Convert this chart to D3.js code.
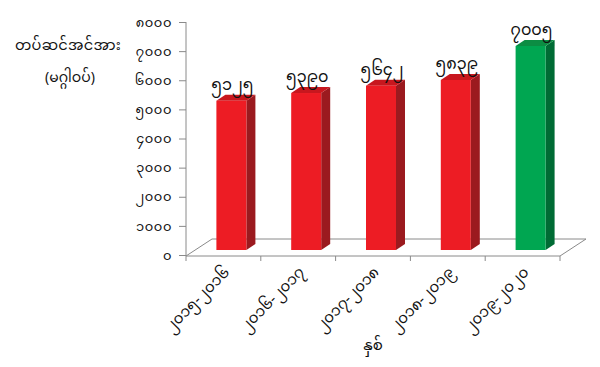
<!DOCTYPE html>
<html><head><meta charset="utf-8">
<script src="https://cdn.jsdelivr.net/npm/d3@7"></script>
<style>body{margin:0;background:#fff}svg{display:block}text{font-family:"Noto Sans Myanmar","Padauk","Myanmar Text","Noto Sans",sans-serif;fill:#111}</style>
</head><body><svg id="c" width="600" height="367"></svg>
<script>
const categories = ["၂၀၁၅-၂၀၁၆","၂၀၁၆-၂၀၁၇","၂၀၁၇-၂၀၁၈","၂၀၁၈-၂၀၁၉","၂၀၁၉-၂၀၂၀"];
const values = [5125, 5390, 5642, 5839, 7005];
const valueLabels = ["၅၁၂၅","၅၃၉၀","၅၆၄၂","၅၈၃၉","၇၀၀၅"];
const tickValues = [0,1000,2000,3000,4000,5000,6000,7000,8000];
const tickLabels = ["၀","၁၀၀၀","၂၀၀၀","၃၀၀၀","၄၀၀၀","၅၀၀၀","၆၀၀၀","၇၀၀၀","၈၀၀၀"];
const yTitle = ["တပ်ဆင်အင်အား","(မဂ္ဂါဝပ်)"];
const xTitle = "နှစ်";

const svg = d3.select("#c");
const x = d3.scaleBand().domain(categories).range([186, 560]).padding(0);
const y = d3.scaleLinear().domain([0, 8000]).range([255, 22]);
const axisCol = "#8a8a8a";

// floor
const fdx = 26, fdy = -17;
const x0 = 186, x1 = 560, fy = y(0) + 1;
svg.append("path")
  .attr("d", `M${x0},${fy}L${x0+fdx},${fy+fdy}L${x1+fdx},${fy+fdy}L${x1},${fy}`)
  .attr("fill","none").attr("stroke", axisCol).attr("stroke-width",1);
svg.append("line").attr("x1",x0).attr("x2",x1).attr("y1",fy).attr("y2",fy)
  .attr("stroke", axisCol);
// bottom ticks
const bt = categories.map(c => x(c)).concat([x1]);
svg.selectAll(".bt").data(bt).enter().append("line")
  .attr("x1",d=>d).attr("x2",d=>d).attr("y1",fy).attr("y2",fy+5).attr("stroke",axisCol);

// y axis
const yAxis = d3.axisLeft(y).tickValues(tickValues).tickFormat((d,i)=>tickLabels[i]).tickSize(7).tickPadding(7);
const ga = svg.append("g").attr("transform",`translate(${x0},0)`).call(yAxis);
ga.select(".domain").attr("stroke",axisCol).attr("d",`M-0,${y(8000)}V${fy}`);
ga.selectAll(".tick line").attr("stroke",axisCol);
ga.selectAll(".tick text").attr("font-size",13).attr("fill","#111").attr("letter-spacing",0.6)
  .style("font-family",'"Noto Sans Myanmar","Padauk","Myanmar Text","Noto Sans",sans-serif');

// bars
const bw = 30, dx = 9, dy = -6, ox = 8, oy = -5;
const colors = values.map((v,i)=> i===values.length-1 ?
  {front:"#00A651", side:"#006B34", top:"#0C8D43"} :
  {front:"#ED1C24", side:"#9B1A1F", top:"#C8171E"});
const g = svg.append("g");
values.forEach((v,i)=>{
  const cx = x(categories[i]) + x.bandwidth()/2 + ox;
  const l = cx - bw/2, r = cx + bw/2;
  const t = y(v) + oy, b = y(0) + oy;
  const c = colors[i];
  g.append("path").attr("d",`M${r},${t}L${r+dx},${t+dy}L${r+dx},${b+dy}L${r},${b}Z`).attr("fill",c.side);
  g.append("path").attr("d",`M${l},${t}L${l+dx},${t+dy}L${r+dx},${t+dy}L${r},${t}Z`).attr("fill",c.top);
  g.append("rect").attr("x",l).attr("y",t).attr("width",bw).attr("height",b-t).attr("fill",c.front);
  g.append("text").attr("x",cx+1).attr("y",t+dy-5).attr("text-anchor","middle")
    .attr("font-size",16).text(valueLabels[i]);
});

// x labels
categories.forEach((c,i)=>{
  const cx = x(c) + x.bandwidth()/2 + 7;
  svg.append("text").attr("transform",`translate(${cx},${fy+17}) rotate(-45)`)
    .attr("text-anchor","end").attr("font-size",15).text(c);
});
svg.append("text").attr("x",(x0+x1)/2).attr("y",350).attr("text-anchor","middle")
  .attr("font-size",15).text(xTitle);

// y title
svg.append("text").attr("x",68).attr("y",50).attr("text-anchor","middle").attr("font-size",14.5).attr("letter-spacing",0.3).text(yTitle[0]);
svg.append("text").attr("x",70).attr("y",82).attr("text-anchor","middle").attr("font-size",14).text(yTitle[1]);
</script></body></html>
